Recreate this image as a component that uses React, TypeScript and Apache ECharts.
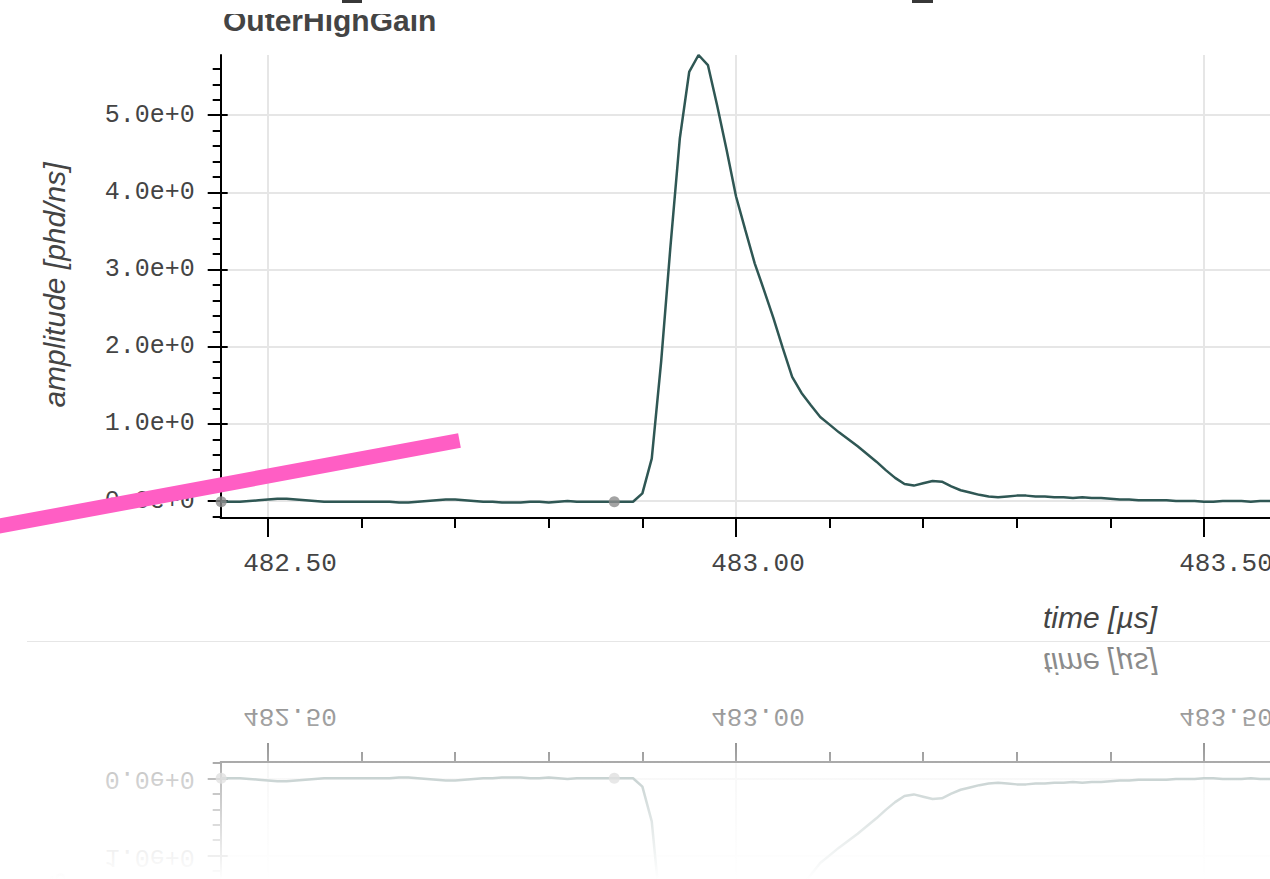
import React, { useEffect, useRef } from "react";
import * as echarts from "echarts";

// Waveform of one PMT channel, sampled every 10 ns.
const TITLE = "OuterHighGain";
const X_NAME = "time [µs]";
const Y_NAME = "amplitude [phd/ns]";

const SAMPLE_START = 482.45; // µs
const SAMPLE_STEP = 0.01; // µs
const AMPLITUDE = [
  -0.01,
  -0.01, -0.01, 0.0, 0.01, 0.02, 0.03, 0.03, 0.02, 0.01, 0.0,
  -0.01, -0.01, -0.01, -0.01, -0.01, -0.01, -0.01, -0.01, -0.02, -0.02,
  -0.01, 0.0, 0.01, 0.02, 0.02, 0.01, 0.0, -0.01, -0.01, -0.02,
  -0.02, -0.02, -0.01, -0.01, -0.02, -0.01, 0.0, -0.01, -0.01, -0.01,
  -0.01, -0.01, -0.01, -0.01, 0.1, 0.55, 1.8, 3.3, 4.7, 5.56,
  5.78, 5.65, 5.12, 4.55, 3.95, 3.51, 3.08, 2.73, 2.37, 1.98,
  1.61, 1.4, 1.24, 1.09, 0.99, 0.89, 0.8, 0.71, 0.61, 0.51,
  0.4, 0.3, 0.22, 0.2, 0.23, 0.26, 0.25, 0.19, 0.14, 0.11,
  0.08, 0.06, 0.05, 0.06, 0.07, 0.07, 0.06, 0.06, 0.05, 0.05,
  0.04, 0.05, 0.04, 0.04, 0.03, 0.02, 0.02, 0.01, 0.01, 0.01,
  0.01, 0.0, 0.0, 0.0, -0.01, -0.01, 0.0, 0.0, 0.0, -0.01,
  0.0, 0.0, 0.0,
];
// Samples highlighted with a marker.
const MARKED_SAMPLES = [0, 42];

const X_MIN = 482.4495;
const X_MAX = 483.5705;
const Y_MIN = -0.22;
const Y_MAX = 5.78;
const X_TICKS = [482.5, 483.0, 483.5];
const Y_TICKS = [0, 1, 2, 3, 4, 5];

const TEXT = "#444";
const LINE = "#2f5754";
const GRID_LINE = "#e6e6e6";
const MONO = "'Liberation Mono', 'Courier New', monospace";
const SANS = "'Liberation Sans', Arial, Helvetica, sans-serif";

function buildOption(withOverlay: boolean): echarts.EChartsOption {
  const points = AMPLITUDE.map((v, i) => [
    +(SAMPLE_START + i * SAMPLE_STEP).toFixed(4),
    v,
  ]);
  const marked = MARKED_SAMPLES.map((i) => points[i]);

  const graphic: any[] = [
    {
      type: "text",
      x: 54,
      y: 285,
      rotation: Math.PI / 2,
      style: {
        text: Y_NAME,
        fill: TEXT,
        fontSize: 30,
        fontStyle: "italic",
        fontFamily: SANS,
        align: "center",
        verticalAlign: "middle",
      },
      z: 10,
    },
    {
      type: "text",
      x: 1157,
      y: 617,
      style: {
        text: X_NAME,
        fill: TEXT,
        fontSize: 30,
        fontStyle: "italic",
        fontFamily: SANS,
        align: "right",
        verticalAlign: "middle",
      },
      z: 10,
    },
    {
      type: "text",
      x: 223,
      y: 20,
      style: {
        text: TITLE,
        fill: TEXT,
        fontSize: 30,
        fontWeight: "bold",
        fontFamily: SANS,
        align: "left",
        verticalAlign: "middle",
      },
      z: 10,
    },
  ];

  if (withOverlay) {
    graphic.push(
      {
        type: "rect",
        shape: { x: 0, y: 0, width: 1270, height: 14 },
        style: { fill: "#fff" },
        z: 50,
      },
      {
        type: "rect",
        shape: { x: 342, y: 0, width: 20, height: 3 },
        style: { fill: "#383838" },
        z: 60,
      },
      {
        type: "rect",
        shape: { x: 912, y: 0, width: 21, height: 3 },
        style: { fill: "#383838" },
        z: 60,
      },
      {
        type: "line",
        shape: { x1: -20, y1: 529.7, x2: 459.5, y2: 440.5 },
        style: { stroke: "#ff5ec4", lineWidth: 15, lineCap: "butt" },
        z: 100,
      }
    );
  }

  return {
    animation: false,
    backgroundColor: "#fff",
    grid: {
      left: 220.7,
      right: 0,
      top: 55,
      bottom: 122,
      containLabel: false,
      outerBoundsMode: "none",
    } as any,
    xAxis: {
      type: "value",
      min: X_MIN,
      max: X_MAX,
      splitNumber: 2,
      minInterval: 0.5,
      maxInterval: 0.5,
      axisLine: { show: true, onZero: false, lineStyle: { color: "#000", width: 2 } },
      axisTick: {
        show: true,
        length: 19,
        customValues: X_TICKS,
        lineStyle: { color: "#000", width: 2 },
      },
      minorTick: {
        show: true,
        splitNumber: 5,
        length: 10,
        lineStyle: { color: "#000", width: 2 },
      },
      axisLabel: {
        customValues: X_TICKS,
        formatter: (v: number) => v.toFixed(2),
        fontFamily: MONO,
        fontSize: 26,
        color: TEXT,
        margin: 33,
        padding: [0, 0, 0, 44],
      },
      splitLine: { show: true, lineStyle: { color: GRID_LINE, width: 2 } },
    } as any,
    yAxis: [
      {
        type: "value",
        min: Y_MIN,
        max: Y_MAX,
        splitNumber: 6,
        minInterval: 1,
        maxInterval: 1,
        axisLine: { show: true, lineStyle: { color: "#000", width: 2 } },
        axisTick: {
          show: true,
          length: 13,
          customValues: Y_TICKS,
          lineStyle: { color: "#000", width: 2 },
        },
        minorTick: {
          show: true,
          splitNumber: 5,
          length: 8,
          lineStyle: { color: "#000", width: 2 },
        },
        axisLabel: {
          customValues: Y_TICKS,
          formatter: (v: number) => v.toExponential(1),
          fontFamily: MONO,
          fontSize: 25,
          color: TEXT,
          margin: 26,
        },
        splitLine: { show: true, lineStyle: { color: GRID_LINE, width: 2 } },
      },
      {
        type: "value",
        position: "left",
        min: Y_MIN,
        max: Y_MAX,
        splitNumber: 6,
        minInterval: 1,
        maxInterval: 1,
        axisLine: { show: false },
        axisTick: {
          show: true,
          inside: true,
          length: 7,
          customValues: Y_TICKS,
          lineStyle: { color: "#000", width: 2 },
        },
        axisLabel: { show: false },
        splitLine: { show: false },
      },
    ] as any,
    series: [
      {
        type: "line",
        data: points,
        showSymbol: false,
        smooth: false,
        clip: true,
        lineStyle: { color: LINE, width: 2.5 },
        itemStyle: { color: LINE },
        z: 3,
      },
      {
        type: "scatter",
        data: marked,
        symbolSize: 11,
        clip: false,
        itemStyle: { color: "#8c8c8c" },
        z: 4,
      },
    ],
    graphic,
  };
}

export default function App() {
  const mainRef = useRef<HTMLDivElement>(null);
  const mirrorRef = useRef<HTMLDivElement>(null);

  useEffect(() => {
    if (!mainRef.current || !mirrorRef.current) return;
    const main = echarts.init(mainRef.current, undefined, { renderer: "svg" });
    const mirror = echarts.init(mirrorRef.current, undefined, { renderer: "svg" });
    main.setOption(buildOption(true));
    mirror.setOption(buildOption(false));
    return () => {
      main.dispose();
      mirror.dispose();
    };
  }, []);

  return (
    <div
      style={{
        position: "fixed",
        left: 0,
        top: 0,
        width: 1270,
        height: 879,
        overflow: "hidden",
        background: "#fff",
      }}
    >
      <div
        ref={mainRef}
        style={{ position: "absolute", left: 0, top: 0, width: 1270, height: 640 }}
      />
      <div
        ref={mirrorRef}
        style={{
          position: "absolute",
          left: 0,
          top: 640,
          width: 1270,
          height: 640,
          transform: "scaleY(-1)",
        }}
      />
      <div
        style={{
          position: "absolute",
          left: 0,
          top: 640,
          width: 1270,
          height: 239,
          background:
            "linear-gradient(to bottom, rgba(255,255,255,0.35) 0px, rgba(255,255,255,0.45) 70px, rgba(255,255,255,0.66) 120px, rgba(255,255,255,0.75) 140px, rgba(255,255,255,0.95) 220px, #fff 239px)",
        }}
      />
      <div
        style={{
          position: "absolute",
          left: 27,
          top: 641,
          width: 1243,
          height: 1,
          background: "#e6e6e6",
        }}
      />
    </div>
  );
}
